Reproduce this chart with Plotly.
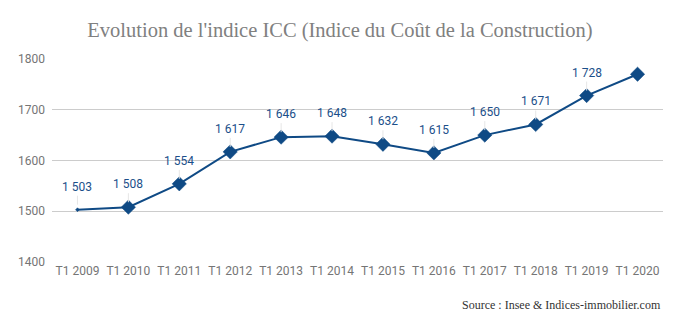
import plotly.graph_objects as go

categories = ["T1 2009", "T1 2010", "T1 2011", "T1 2012", "T1 2013", "T1 2014",
              "T1 2015", "T1 2016", "T1 2017", "T1 2018", "T1 2019", "T1 2020"]
values = [1503, 1508, 1554, 1617, 1646, 1648, 1632, 1615, 1650, 1671, 1728, 1770]
labels = ["1 503", "1 508", "1 554", "1 617", "1 646", "1 648", "1 632", "1 615",
          "1 650", "1 671", "1 728", ""]
marker_sizes = [3, 11, 11, 11, 11, 11, 11, 11, 11, 11, 11, 11]

blue = "#0f4a85"

fig = go.Figure()
fig.add_trace(go.Scatter(
    x=categories, y=values, mode="lines+markers",
    line=dict(color=blue, width=2),
    marker=dict(symbol="diamond", size=marker_sizes, color=blue, opacity=1,
                line=dict(color=blue, width=0.5)),
    hoverinfo="skip", showlegend=False,
))

for c, v, t in zip(categories, values, labels):
    if not t:
        continue
    fig.add_annotation(
        x=c, y=v, text=t, showarrow=True, arrowhead=0, arrowwidth=1,
        arrowcolor="#e6e6e6", ax=0, ay=-14, standoff=5, yanchor="bottom",
        font=dict(family="Roboto", size=12, color="#1b4f8a"),
    )

fig.add_annotation(
    xref="paper", yref="paper", x=1, y=0, xanchor="right", yanchor="top",
    text="Source : Insee & Indices-immobilier.com", showarrow=False, yshift=-34,
    font=dict(family="Liberation Serif", size=12, color="#333333"),
)

fig.update_layout(
    width=680, height=333, margin=dict(l=52, r=17, t=59, b=71),
    paper_bgcolor="white", plot_bgcolor="white",
    font=dict(family="Roboto", size=12, color="#757575"),
    title=dict(text="Evolution de l'indice ICC (Indice du Coût de la Construction)",
               xref="container", yref="container", x=0.5, y=1 - 30 / 333,
               xanchor="center", yanchor="middle",
               font=dict(family="Liberation Serif", size=20.5, color="#808080")),
    xaxis=dict(type="category", showgrid=False, showline=False, ticks="",
               tickfont=dict(family="Roboto", size=12, color="#757575"),
               range=[-0.5, 11.5]),
    yaxis=dict(range=[1400, 1800], dtick=100, showgrid=True, gridcolor="#cccccc",
               gridwidth=1, zeroline=False, showline=False, ticks="",
               ticksuffix="  ", tickformat="d",
               tickfont=dict(family="Roboto", size=12, color="#757575")),
)

fig.write_html("out.html")
